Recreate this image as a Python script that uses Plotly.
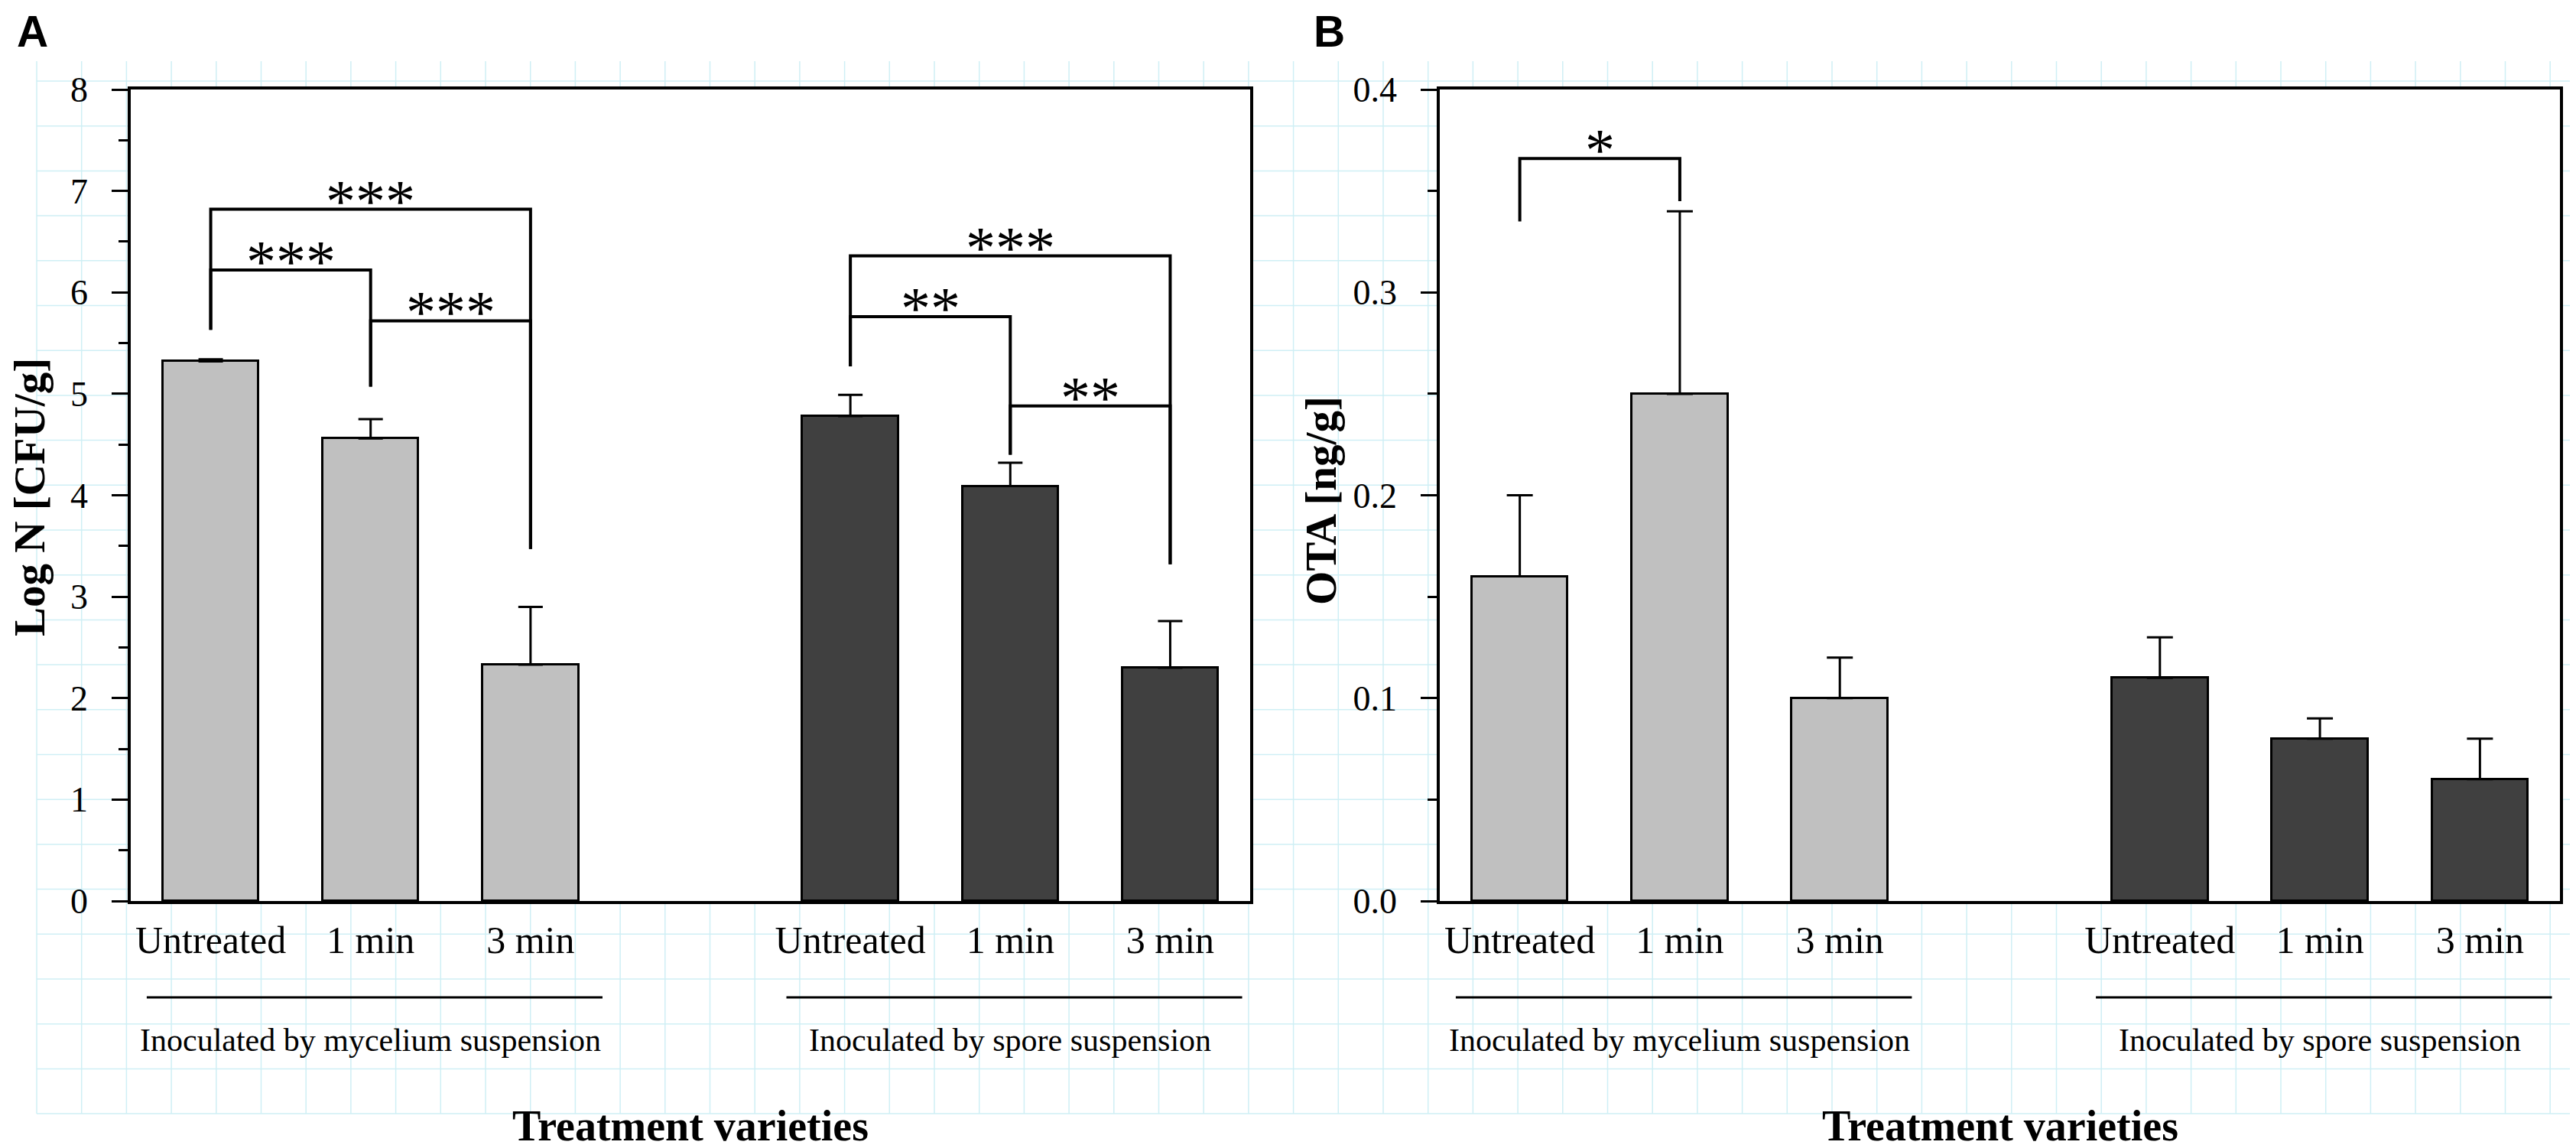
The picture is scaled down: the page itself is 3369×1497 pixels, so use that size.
import plotly.graph_objects as go
import numpy as np

W, H = 3369, 1497

# ---------------------------------------------------------------
# data
# ---------------------------------------------------------------
positions = [0, 1, 2, 4, 5, 6]
labels = ["Untreated", "1 min", "3 min", "Untreated", "1 min", "3 min"]
groups = ["Inoculated by mycelium suspension", "Inoculated by spore suspension"]
group_centers = [1, 5]

logn = [5.32, 4.56, 2.33, 4.78, 4.09, 2.30]
logn_err = [0.02, 0.19, 0.57, 0.21, 0.23, 0.46]

ota = [0.16, 0.25, 0.10, 0.11, 0.08, 0.06]
ota_err = [0.04, 0.09, 0.02, 0.02, 0.01, 0.02]

bar_colors = ["#c0c0c0"] * 3 + ["#404040"] * 3

# brackets: (left bar, right bar, top, left drop, right drop, stars)
brackets_a = [
    (0, 1, 6.22, 5.63, 5.07, "***"),
    (0, 2, 6.82, 5.63, 3.47, "***"),
    (1, 2, 5.72, 5.07, 3.47, "***"),
    (3, 5, 6.36, 5.27, 3.32, "***"),
    (3, 4, 5.76, 5.27, 4.40, "**"),
    (4, 5, 4.88, 4.40, 3.32, "**"),
]
brackets_b = [
    (0, 1, 0.366, 0.335, 0.345, "*"),
]

SERIF = "Liberation Serif"


def py(px):
    return 1 - px / H


xa_dom = [163 / W, 1627 / W]
xb_dom = [1875 / W, 3340 / W]
y_dom = [py(1170), py(109)]

fig = go.Figure()

# ---------------------------------------------------------------
# bars
# ---------------------------------------------------------------
for vals, errs, xr, yr, cap in [(logn, logn_err, "x", "y", 16),
                                (ota, ota_err, "x2", "y2", 17)]:
    fig.add_trace(go.Bar(
        x=positions, y=vals, width=0.6,
        marker=dict(color=bar_colors, line=dict(color="black", width=3)),
        error_y=dict(type="data", symmetric=False, array=errs,
                     arrayminus=[0] * len(errs), color="black",
                     thickness=3, width=cap),
        xaxis=xr, yaxis=yr, showlegend=False, hoverinfo="skip",
    ))

# significance brackets
for brs, xr, yr in [(brackets_a, "x", "y"), (brackets_b, "x2", "y2")]:
    bx, by = [], []
    for l, r, top, dl, dr, txt in brs:
        x0, x1 = positions[l], positions[r]
        bx += [x0, x0, x1, x1, None]
        by += [dl, top, top, dr, None]
        fig.add_annotation(x=(x0 + x1) / 2, y=top, xref=xr, yref=yr,
                           text=txt, showarrow=False, yanchor="bottom",
                           yshift=-34, font=dict(family=SERIF, size=78, color="black"))
    fig.add_trace(go.Scatter(x=bx, y=by, mode="lines",
                             line=dict(color="black", width=4),
                             xaxis=xr, yaxis=yr, showlegend=False,
                             hoverinfo="skip"))

# ---------------------------------------------------------------
# background grid paper + white plot areas
# ---------------------------------------------------------------
path = ""
for gx in np.arange(40, W, 58.7):
    path += f"M{gx / W},{py(72)}L{gx / W},{py(1448)}"
for gy in np.arange(98, 1449, 58.7):
    path += f"M{40 / W},{py(gy)}L1,{py(gy)}"
fig.add_shape(type="path", path=path, xref="paper", yref="paper",
              line=dict(color="#cfeff5", width=1.5), layer="below")
for dom in (xa_dom, xb_dom):
    fig.add_shape(type="rect", xref="paper", yref="paper",
                  x0=dom[0], x1=dom[1], y0=y_dom[0], y1=y_dom[1],
                  fillcolor="white", line=dict(width=0), layer="below")

# group underline + group label
for xr in ("x", "x2"):
    for gc, g in zip(group_centers, groups):
        fig.add_shape(type="line", xref=xr, yref="paper",
                      x0=gc - 1.4, x1=gc + 1.45, y0=py(1296), y1=py(1296),
                      line=dict(color="black", width=3))
        fig.add_annotation(x=gc, y=py(1352), xref=xr, yref="paper",
                           text=g, showarrow=False, xanchor="center",
                           yanchor="middle",
                           font=dict(family=SERIF, size=42, color="black"))
    fig.add_annotation(x=3, y=0, xref=xr, yref="paper",
                       text="<b>Treatment varieties</b>", showarrow=False,
                       xanchor="center", yanchor="bottom",
                       font=dict(family=SERIF, size=56, color="black"))

# axis titles and panel letters
fig.add_annotation(x=30 / W, y=py(642), xref="paper", yref="paper",
                   text="<b>Log N [CFU/g]</b>", textangle=-90, showarrow=False,
                   xanchor="center", yanchor="middle",
                   font=dict(family=SERIF, size=57, color="black"))
fig.add_annotation(x=1720 / W, y=py(647), xref="paper", yref="paper",
                   text="<b>OTA [ng/g]</b>", textangle=-90, showarrow=False,
                   xanchor="center", yanchor="middle",
                   font=dict(family=SERIF, size=57, color="black"))
for letter, lx in [("A", 34), ("B", 1730)]:
    fig.add_annotation(x=lx / W, y=py(33), xref="paper", yref="paper",
                       text=f"<b>{letter}</b>", showarrow=False,
                       xanchor="center", yanchor="middle",
                       font=dict(family="Liberation Sans", size=57, color="black"))

# ---------------------------------------------------------------
# axes
# ---------------------------------------------------------------
xaxis_common = dict(range=[-0.5, 6.5], tickvals=positions, ticktext=labels,
                    ticks="", showline=True, linecolor="black", linewidth=3.5,
                    mirror=True, showgrid=False, zeroline=False,
                    automargin=False, ticklabelstandoff=4,
                    tickfont=dict(family=SERIF, size=50, color="black"))
yaxis_common = dict(showline=True, linecolor="black", linewidth=3.5,
                    mirror=True, showgrid=False, zeroline=False,
                    automargin=False,
                    ticks="outside", ticklen=21, tickwidth=3, tickcolor="black",
                    ticklabelstandoff=22,
                    tickfont=dict(family=SERIF, size=46, color="black"))

fig.update_layout(
    width=W, height=H,
    margin=dict(l=0, r=0, t=0, b=0),
    paper_bgcolor="white",
    plot_bgcolor="rgba(0,0,0,0)",
    bargap=0,
    xaxis=dict(domain=xa_dom, anchor="y", **xaxis_common),
    xaxis2=dict(domain=xb_dom, anchor="y2", **xaxis_common),
    yaxis=dict(domain=y_dom, anchor="x", range=[0, 8], dtick=1,
               minor=dict(dtick=0.5, ticks="outside", ticklen=12,
                          tickwidth=3, tickcolor="black"),
               **yaxis_common),
    yaxis2=dict(domain=y_dom, anchor="x2", range=[0, 0.4], dtick=0.1,
                tickformat=".1f",
                minor=dict(dtick=0.05, ticks="outside", ticklen=12,
                           tickwidth=3, tickcolor="black"),
                **yaxis_common),
)

fig.write_html("out.html")
